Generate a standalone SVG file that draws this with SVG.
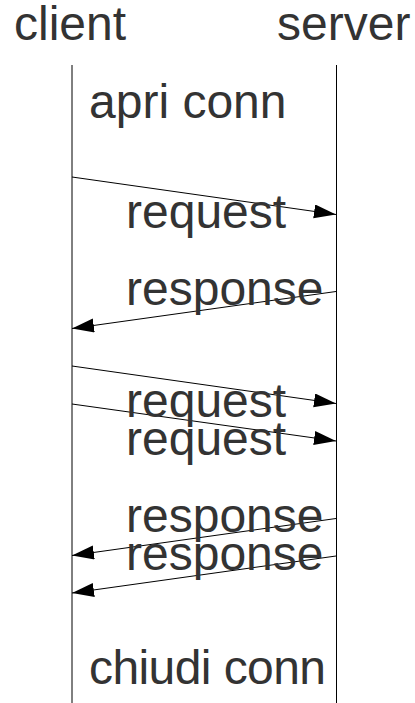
<svg xmlns="http://www.w3.org/2000/svg" width="415" height="703" viewBox="0 0 415 703">
  <style>
    .lbl { font-family: "Liberation Sans", Arial, sans-serif; font-size: 48px; fill: #333333; }
    .msg { stroke: #000000; stroke-width: 1; fill: none; marker-end: url(#head); }
  </style>
  <defs>
    <marker id="head" markerUnits="userSpaceOnUse" markerWidth="24" markerHeight="16" refX="22" refY="7" orient="auto">
      <path d="M0,0 L22,7 L0,14 Z" fill="#000000"/>
    </marker>
  </defs>
  <rect width="415" height="703" fill="#ffffff"/>

  <g id="client">
    <text class="lbl" x="14" y="39.5">client</text>
    <line x1="72" y1="65" x2="72" y2="703" stroke="#000000" stroke-width="1"/>
  </g>
  <g id="server">
    <text class="lbl" x="277" y="39.5">server</text>
    <line x1="336.5" y1="65" x2="336.5" y2="703" stroke="#000000" stroke-width="1"/>
  </g>

  <g id="open-conn">
    <text class="lbl" x="89" y="117.5">apri conn</text>
  </g>
  <g id="close-conn">
    <text class="lbl" x="89" y="683.5" textLength="237">chiudi conn</text>
  </g>

  <g id="connectors">
    <line class="msg" x1="72" y1="177" x2="336" y2="214.5"/>
    <line class="msg" x1="336" y1="291.5" x2="72" y2="328.5"/>
    <line class="msg" x1="72" y1="366" x2="336" y2="403.5"/>
    <line class="msg" x1="72" y1="404" x2="336" y2="441"/>
    <line class="msg" x1="336" y1="518.5" x2="72" y2="555.5"/>
    <line class="msg" x1="336" y1="556" x2="72" y2="593"/>
  </g>

  <g id="labels">
    <text class="lbl" x="126" y="228">request</text>
    <text class="lbl" x="126" y="305">response</text>
    <text class="lbl" x="126" y="417">request</text>
    <text class="lbl" x="126" y="454.5">request</text>
    <text class="lbl" x="126" y="532">response</text>
    <text class="lbl" x="126" y="569.5">response</text>
  </g>
</svg>
